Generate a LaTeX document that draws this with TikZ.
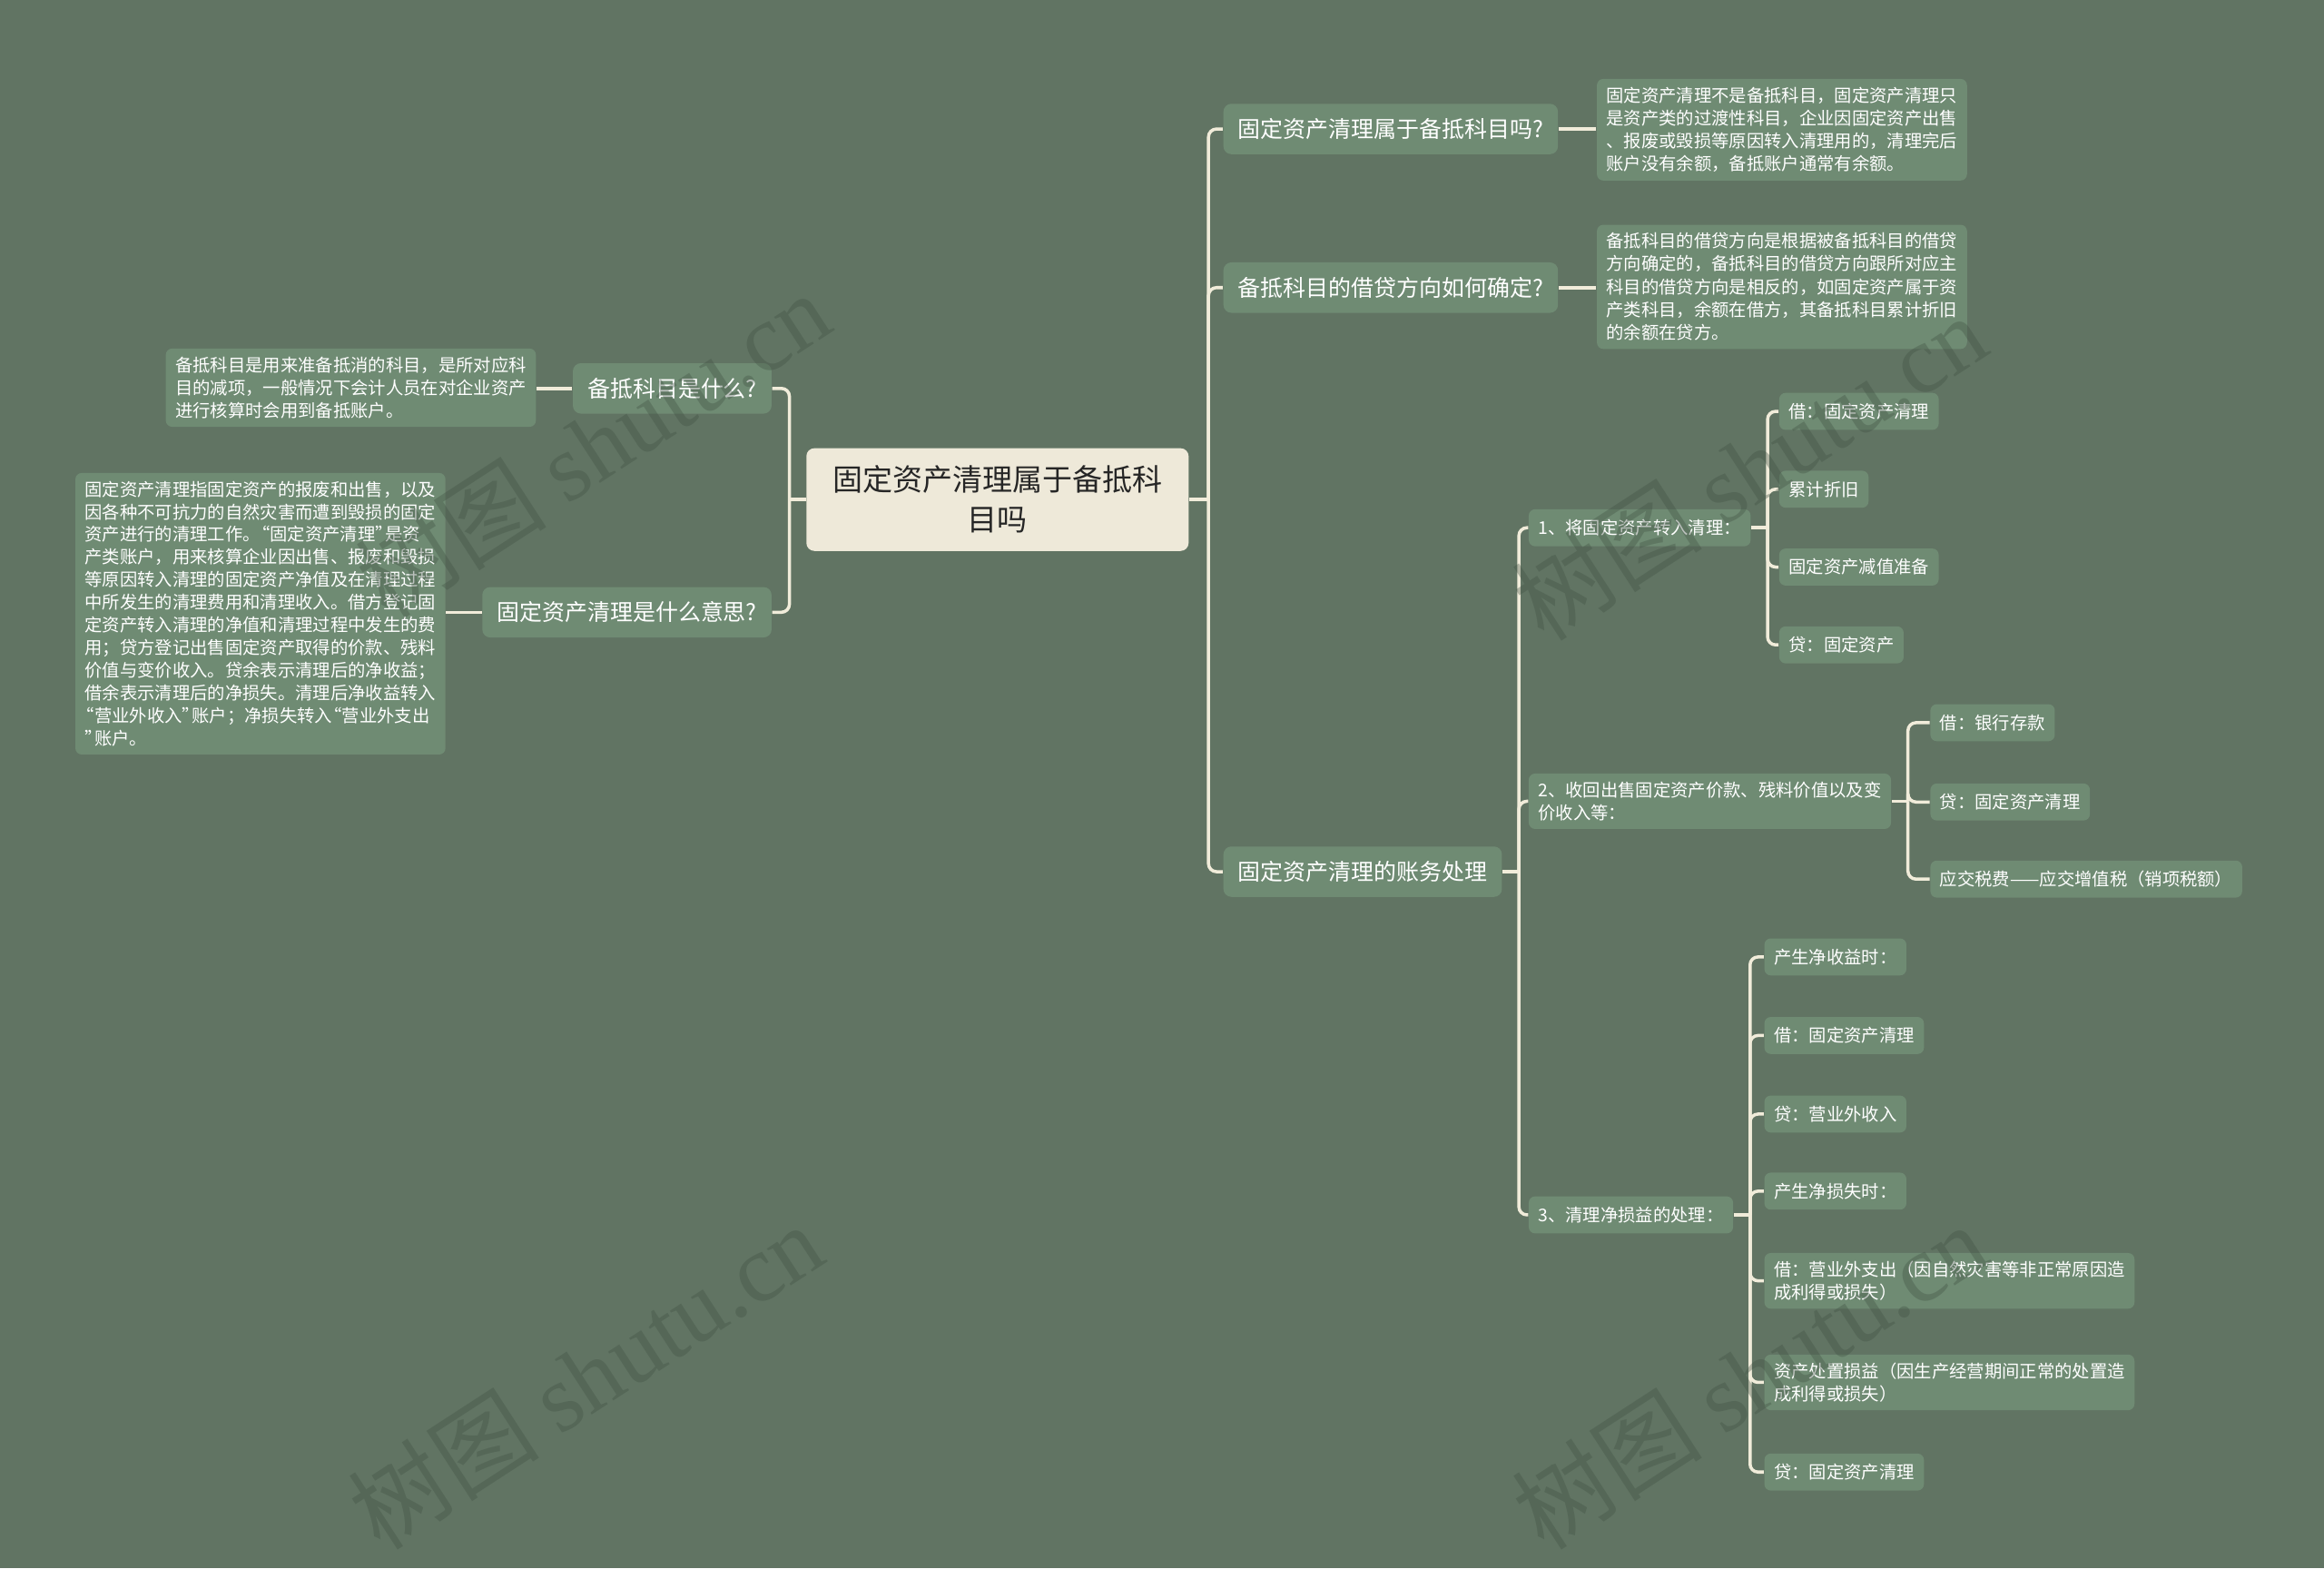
\documentclass[tikz,border=0pt]{standalone}
\usepackage{fontspec}
\setmainfont{Noto Sans CJK SC}
\newfontfamily\wmfont{Liberation Serif}
\usepackage{tikz}
\usetikzlibrary{calc,positioning}

\definecolor{bgcol}{HTML}{617463}
\definecolor{nodefill}{HTML}{6F8B73}
\definecolor{rootfill}{HTML}{EEE9D9}
\definecolor{roottext}{HTML}{262626}
\definecolor{linkcol}{HTML}{F1ECDA}
\definecolor{wmcol}{HTML}{3F5042}

\newcommand{\qopen}{\makebox[0.55em][r]{“}}
\newcommand{\qclose}{\makebox[0.55em][l]{”}}

\begin{document}
\begin{tikzpicture}[x=0.016327cm, y=-0.016327cm,
  root/.style={fill=rootfill,rounded corners=2.5pt,text=roottext,align=center,
    font=\fontsize{9.4}{12.5}\selectfont,inner xsep=8pt,inner ysep=5.5pt,minimum width=119.8pt},
  topic/.style={fill=nodefill,rounded corners=2.5pt,text=white,
    font=\fontsize{7.1}{9}\selectfont,inner xsep=4.6pt,inner ysep=2pt,minimum height=15.8pt},
  leaf/.style={fill=nodefill,rounded corners=2pt,text=white,align=left,
    font=\fontsize{5.5}{7.2}\selectfont,inner xsep=3pt,inner ysep=2.5pt,minimum height=11.6pt},
  note/.style={leaf},
  link/.style={draw=linkcol,line width=1pt,rounded corners=2.5pt},
  wm/.style={text=wmcol,opacity=0.35,rotate=33,font=\fontsize{30}{30}\selectfont}]

  \fill[bgcol] (0,0) rectangle (1568,1058);
  \useasboundingbox (0,0) rectangle (1568,1058);

  % centre
  \node[root] (root) at (673,337) {固定资产清理属于备抵科\\目吗};

  % right side
  \node[topic,anchor=west] (q1) at (825,87) {固定资产清理属于备抵科目吗?};
  \node[topic,anchor=west] (q2) at (825,194) {备抵科目的借贷方向如何确定?};
  \node[topic,anchor=west] (q3) at (825,588) {固定资产清理的账务处理};

  \node[note,anchor=west] (q1n) at (1077,87.5) {固定资产清理不是备抵科目，固定资产清理只\\是资产类的过渡性科目，企业因固定资产出售\\、报废或毁损等原因转入清理用的，清理完后\\账户没有余额，备抵账户通常有余额。};
  \node[note,anchor=west] (q2n) at (1077,193.5) {备抵科目的借贷方向是根据被备抵科目的借贷\\方向确定的，备抵科目的借贷方向跟所对应主\\科目的借贷方向是相反的，如固定资产属于资\\产类科目，余额在借方，其备抵科目累计折旧\\的余额在贷方。};

  % left side
  \node[topic,anchor=east] (l1) at (521,262) {备抵科目是什么?};
  \node[topic,anchor=east] (l2) at (521,413) {固定资产清理是什么意思?};

  \node[note,anchor=east] (l1n) at (362,261.5) {备抵科目是用来准备抵消的科目，是所对应科\\目的减项，一般情况下会计人员在对企业资产\\进行核算时会用到备抵账户。};
  \node[note,anchor=east,font=\fontsize{5.5}{7.1}\selectfont] (l2n) at (301,414) {固定资产清理指固定资产的报废和出售，以及\\因各种不可抗力的自然灾害而遭到毁损的固定\\资产进行的清理工作。\qopen 固定资产清理\qclose 是资\\产类账户，用来核算企业因出售、报废和毁损\\等原因转入清理的固定资产净值及在清理过程\\中所发生的清理费用和清理收入。借方登记固\\定资产转入清理的净值和清理过程中发生的费\\用；贷方登记出售固定资产取得的价款、残料\\价值与变价收入。贷余表示清理后的净收益；\\借余表示清理后的净损失。清理后净收益转入\\\qopen 营业外收入\qclose 账户；净损失转入\qopen 营业外支出\\\qclose 账户。};

  % steps
  \node[leaf,anchor=west] (s1) at (1031,356) {1、将固定资产转入清理：};
  \node[leaf,anchor=west] (s2) at (1031,540.5) {2、收回出售固定资产价款、残料价值以及变\\价收入等：};
  \node[leaf,anchor=west] (s3) at (1031,819.5) {3、清理净损益的处理：};

  \node[leaf,anchor=west] (s1a) at (1200,277.5) {借：固定资产清理};
  \node[leaf,anchor=west] (s1b) at (1200,330) {累计折旧};
  \node[leaf,anchor=west] (s1c) at (1200,382.5) {固定资产减值准备};
  \node[leaf,anchor=west] (s1d) at (1200,435) {贷：固定资产};

  \node[leaf,anchor=west] (s2a) at (1302,487.5) {借：银行存款};
  \node[leaf,anchor=west] (s2b) at (1302,541) {贷：固定资产清理};
  \node[leaf,anchor=west] (s2c) at (1302,593) {应交税费——应交增值税（销项税额）};

  \node[leaf,anchor=west] (s3a) at (1190,645.5) {产生净收益时：};
  \node[leaf,anchor=west] (s3b) at (1190,698.5) {借：固定资产清理};
  \node[leaf,anchor=west] (s3c) at (1190,751.5) {贷：营业外收入};
  \node[leaf,anchor=west] (s3d) at (1190,803.5) {产生净损失时：};
  \node[leaf,anchor=west] (s3e) at (1190,864) {借：营业外支出（因自然灾害等非正常原因造\\成利得或损失）};
  \node[leaf,anchor=west] (s3f) at (1190,932.5) {资产处置损益（因生产经营期间正常的处置造\\成利得或损失）};
  \node[leaf,anchor=west] (s3g) at (1190,993) {贷：固定资产清理};

  % links
  \draw[link] (root.east) -- ++(13,0) coordinate (rt);
  \draw[link] (rt) |- (q1.west);
  \draw[link] (rt) |- (q2.west);
  \draw[link] (rt) |- (q3.west);
  \draw[link] (root.west) -- ++(-11,0) coordinate (lt);
  \draw[link] (lt) |- (l1.east);
  \draw[link] (lt) |- (l2.east);

  \draw[link] (q1.east) -- (q1.east -| q1n.west);
  \draw[link] (q2.east) -- (q2.east -| q2n.west);
  \draw[link] (l1.west) -- (l1.west -| l1n.east);
  \draw[link] (l2.west) -- (l2.west -| l2n.east);

  \draw[link] (q3.east) -- ++(11,0) coordinate (t3);
  \draw[link] (t3) |- (s1.west);
  \draw[link] (t3) |- (s2.west);
  \draw[link] (t3) |- (s3.west);

  \draw[link] (s1.east) -- ++(11,0) coordinate (t1);
  \draw[link] (t1) |- (s1a.west);
  \draw[link] (t1) |- (s1b.west);
  \draw[link] (t1) |- (s1c.west);
  \draw[link] (t1) |- (s1d.west);

  \draw[link] (s2.east) -- ++(11,0) coordinate (t2);
  \draw[link] (t2) |- (s2a.west);
  \draw[link] (t2) |- (s2b.west);
  \draw[link] (t2) |- (s2c.west);

  \draw[link] (s3.east) -- ++(11,0) coordinate (t4);
  \draw[link] (t4) |- (s3a.west);
  \draw[link] (t4) |- (s3b.west);
  \draw[link] (t4) |- (s3c.west);
  \draw[link] (t4) |- (s3d.west);
  \draw[link] (t4) |- (s3e.west);
  \draw[link] (t4) |- (s3f.west);
  \draw[link] (t4) |- (s3g.west);

  % watermarks
  \node[wm] (wm1) at (400,300) {树图 {\wmfont shutu.cn}};
  \node[wm] (wm2) at (395,928) {树图 {\wmfont shutu.cn}};
  \node[wm] (wm3) at (1180,315) {树图 {\wmfont shutu.cn}};
  \node[wm] (wm4) at (1180,928) {树图 {\wmfont shutu.cn}};
\end{tikzpicture}
\end{document}
